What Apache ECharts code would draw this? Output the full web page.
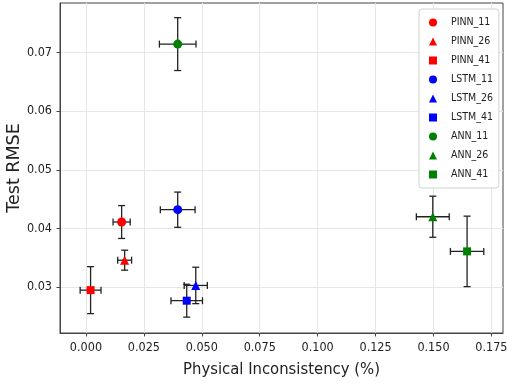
<!DOCTYPE html>
<html>
<head>
<meta charset="utf-8">
<script src="https://cdn.jsdelivr.net/npm/echarts@6/dist/echarts.min.js"></script>
<style>
  html, body { margin: 0; padding: 0; background: #fff; }
  #chart { width: 508px; height: 385px; }
</style>
</head>
<body>
<div id="chart"></div>
<script>
// values
const models = ['PINN_11', 'PINN_26', 'PINN_41', 'LSTM_11', 'LSTM_26', 'LSTM_41', 'ANN_11', 'ANN_26', 'ANN_41'];
const inconsistency = [0.0154, 0.0167, 0.0020, 0.0396, 0.0474, 0.0435, 0.0396, 0.1497, 0.1645];
const rmse = [0.0411, 0.0346, 0.0295, 0.0432, 0.0303, 0.0277, 0.0714, 0.0420, 0.0361];
const inconsistencyErr = [0.0037, 0.0030, 0.0045, 0.0075, 0.0050, 0.0068, 0.0079, 0.0071, 0.0072];
const rmseErr = [0.0028, 0.0017, 0.0040, 0.0030, 0.0031, 0.0028, 0.0045, 0.0035, 0.0060];
const xTicks = [0, 0.025, 0.05, 0.075, 0.1, 0.125, 0.15, 0.175];
const yTicks = [0.03, 0.04, 0.05, 0.06, 0.07];

const colorOf = { PINN: '#ff0000', LSTM: '#0000ff', ANN: '#008000' };
const symbolOf = { '11': 'circle', '26': 'triangle', '41': 'rect' };
const sizeOf = { circle: 9, triangle: 9, rect: 8 };

const font = 'DejaVu Sans';
const narrow = '"DejaVu Sans Condensed", "DejaVu Sans"';
const chart = echarts.init(document.getElementById('chart'), null, { renderer: 'canvas' });

// error bars as a custom series
function renderErr(params, api) {
  const x = api.value(0), y = api.value(1), ex = api.value(2), ey = api.value(3);
  const l = api.coord([x - ex, y]), r = api.coord([x + ex, y]);
  const t = api.coord([x, y + ey]), b = api.coord([x, y - ey]);
  const cap = 3.5;
  const style = { stroke: '#222', lineWidth: 1.3 };
  const seg = (x1, y1, x2, y2) => ({ type: 'line', shape: { x1, y1, x2, y2 }, style });
  return {
    type: 'group',
    children: [
      seg(l[0], l[1], r[0], r[1]),
      seg(t[0], t[1], b[0], b[1]),
      seg(l[0], l[1] - cap, l[0], l[1] + cap),
      seg(r[0], r[1] - cap, r[0], r[1] + cap),
      seg(t[0] - cap, t[1], t[0] + cap, t[1]),
      seg(b[0] - cap, b[1], b[0] + cap, b[1])
    ]
  };
}

const errData = models.map((m, i) => [inconsistency[i], rmse[i], inconsistencyErr[i], rmseErr[i]]);

const scatterSeries = models.map((m, i) => {
  const [net, run] = m.split('_');
  const sym = symbolOf[run];
  return {
    name: m,
    type: 'scatter',
    symbol: sym,
    symbolSize: sizeOf[sym],
    itemStyle: { color: colorOf[net], opacity: 1 },
    z: 5,
    data: [[inconsistency[i], rmse[i]]]
  };
});

chart.setOption({
  animation: false,
  textStyle: { fontFamily: font },
  grid: {
    left: 60, right: 5, top: 3, bottom: 52,
    outerBoundsMode: 'none',
    show: true, borderColor: '#444', borderWidth: 1, backgroundColor: 'transparent'
  },
  legend: {
    orient: 'vertical',
    left: 419,
    top: 9,
    data: models,
    itemWidth: 8,
    itemHeight: 8,
    itemGap: 8,
    padding: [8, 6, 8, 10],
    borderColor: '#d0d0d0',
    borderWidth: 1,
    borderRadius: 3,
    backgroundColor: 'rgba(255,255,255,0.85)',
    textStyle: { fontFamily: narrow, fontSize: 10.5, color: '#222', padding: [0, 0, 0, 9] }
  },
  xAxis: {
    type: 'value',
    min: -0.0112,
    max: 0.180,
    name: 'Physical Inconsistency (%)',
    nameLocation: 'middle',
    nameMoveOverlap: false,
    nameGap: 28,
    nameTextStyle: { fontFamily: narrow, fontSize: 16.5, color: '#222' },
    axisLine: { show: true, onZero: false, lineStyle: { color: '#444' } },
    axisTick: { show: true, length: 3.5, customValues: xTicks, lineStyle: { color: '#444' } },
    axisLabel: { customValues: xTicks, margin: 8, fontFamily: narrow, fontSize: 12.5, color: '#222', formatter: v => v.toFixed(3) },
    splitLine: { show: true, lineStyle: { color: '#e6e6e6', width: 1 } }
  },
  yAxis: {
    type: 'value',
    min: 0.0222,
    max: 0.0784,
    name: 'Test RMSE',
    nameLocation: 'middle',
    nameMoveOverlap: false,
    nameGap: 37,
    nameTextStyle: { fontFamily: font, fontSize: 17.5, color: '#222' },
    axisLine: { show: true, onZero: false, lineStyle: { color: '#444' } },
    axisTick: { show: true, length: 3.5, customValues: yTicks, lineStyle: { color: '#444' } },
    axisLabel: { customValues: yTicks, margin: 8, fontFamily: narrow, fontSize: 12.5, color: '#222', formatter: v => v.toFixed(2) },
    splitLine: { show: true, lineStyle: { color: '#e6e6e6', width: 1 } }
  },
  series: [
    {
      type: 'custom',
      name: 'errors',
      renderItem: renderErr,
      encode: { x: 0, y: 1 },
      z: 2,
      silent: true,
      data: errData
    }
  ].concat(scatterSeries)
});
</script>
</body>
</html>
